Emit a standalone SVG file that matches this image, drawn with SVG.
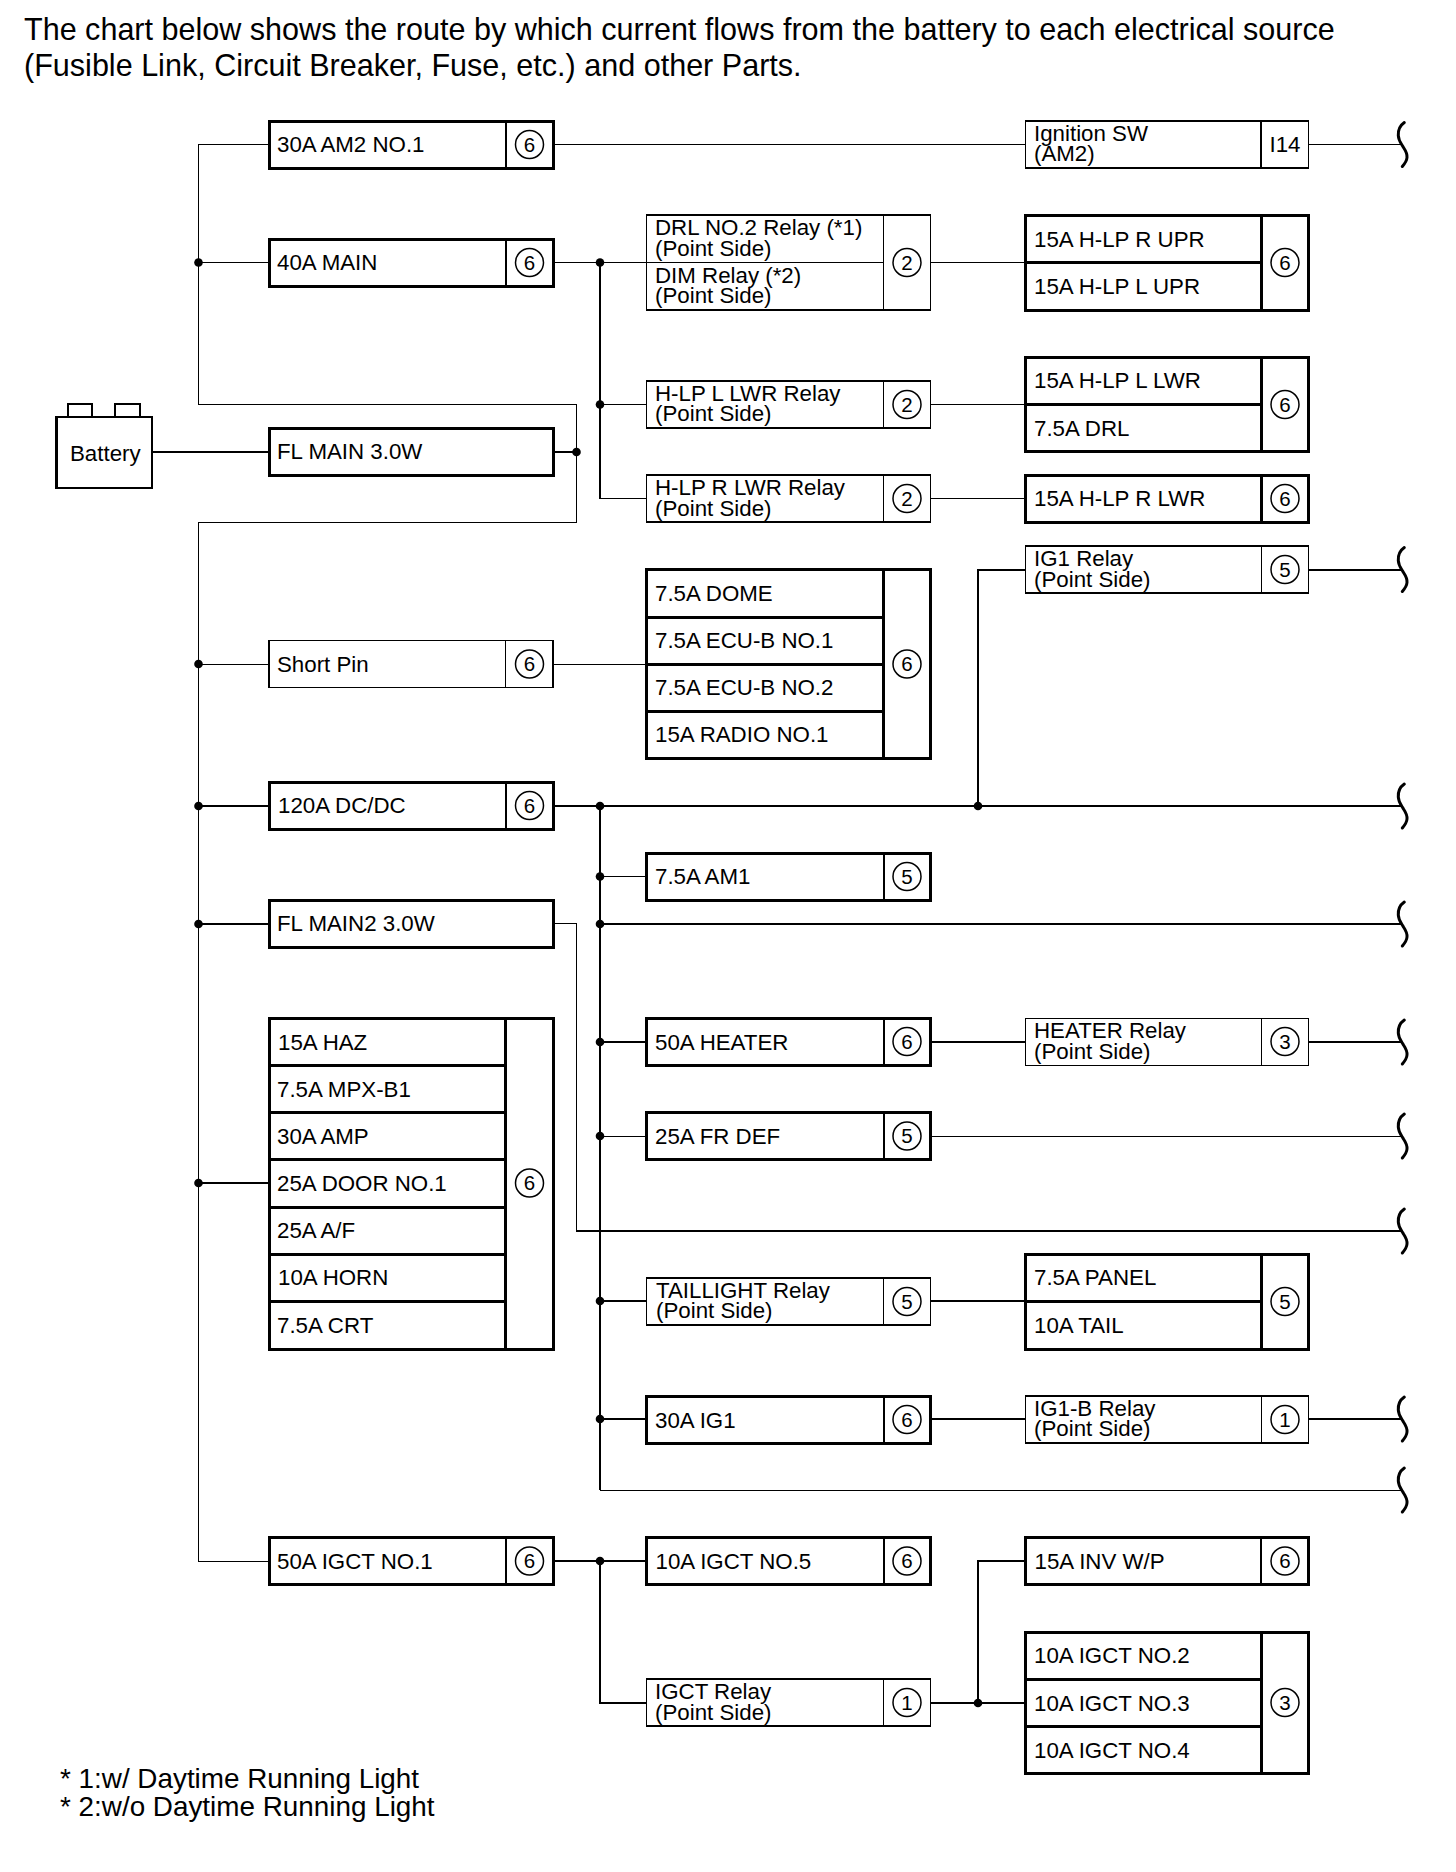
<svg xmlns="http://www.w3.org/2000/svg" width="1456" height="1872" viewBox="0 0 1456 1872">
<style>
text{font-family:"Liberation Sans",Arial,sans-serif;font-size:22.3px;fill:#000}
.h{font-size:30.56px}
.f{font-size:27.85px}
.n{font-size:20.5px;text-anchor:middle}
.m{text-anchor:middle}
.b,.r,.c,.w,.s,.v{fill:none;stroke:#000;shape-rendering:crispEdges}
.b{fill:#fff;stroke-width:3}
.r{fill:#fff;stroke-width:1.6}
.c{fill:#fff;stroke-width:1.5;shape-rendering:auto}
.w{stroke-width:1}
.s{stroke-width:2}
.v{stroke-width:3;stroke-linecap:round;shape-rendering:auto}
.d{fill:#000}
</style>
<defs>
<path id="brace" class="v" d="M1404.300-22C1400-19 1398-14 1398.300-9C1398.600-3 1402 0 1403.500 3C1405.500 6 1407.500 9 1407 13C1406.700 17 1404 20 1402.300 22"/>
</defs>
<text class="h" x="24" y="40">The chart below shows the route by which current flows from the battery to each electrical source</text>
<text class="h" x="24" y="76">(Fusible Link, Circuit Breaker, Fuse, etc.) and other Parts.</text>
<g id="connectors">
<path class="w" d="M269 144.500H198.500V404.500H576.500V522.500H198.500V1561H269"/>
<path class="w" d="M198.500 262.500H269M198.500 664H269"/>
<path class="s" d="M198 806H269M198 924H269M198 1183H269"/>
<path class="s" d="M152 452H269M553 452H577"/>
<path class="w" d="M553 144.500H1025.500M1308.500 144.500H1402"/>
<path class="w" d="M553 262.500H646.500M930.500 262.500H1025.500M600 498.500H646.500M600 404.500H646.500M930.500 404.500H1025.500M930.500 498.500H1025.500"/>
<path class="s" d="M600 262V499"/>
<path class="s" d="M978 806V570H1025M1308 570H1402"/>
<path class="w" d="M553 664H646.500"/>
<path class="s" d="M553 806H1402M600 806V1490"/>
<path class="w" d="M600 876.500H646.500"/>
<path class="s" d="M600 924H1402"/>
<path class="w" d="M553 923.500H576.500V1230.500"/>
<path class="s" d="M576 1231H1402"/>
<path class="s" d="M600 1042H646M930 1042H1025M1308 1042H1402"/>
<path class="w" d="M600 1136.500H646.500M930 1136.500H1402"/>
<path class="s" d="M600 1301H646M930 1301H1025M600 1419H646M930 1419H1025M1308 1419H1402"/>
<path class="w" d="M600 1490.500H1402"/>
<path class="s" d="M553 1561H646M600 1561V1703H646M930 1703H1025M978 1703V1561H1025"/>
<use href="#brace" y="144.500"/>
<use href="#brace" y="569.500"/>
<use href="#brace" y="806"/>
<use href="#brace" y="924"/>
<use href="#brace" y="1042"/>
<use href="#brace" y="1136"/>
<use href="#brace" y="1231"/>
<use href="#brace" y="1419"/>
<use href="#brace" y="1490"/>
<circle class="d" cx="198.500" cy="262.500" r="4.300"/>
<circle class="d" cx="198.500" cy="664" r="4.300"/>
<circle class="d" cx="198.500" cy="806" r="4.300"/>
<circle class="d" cx="198.500" cy="924" r="4.300"/>
<circle class="d" cx="198.500" cy="1183" r="4.300"/>
<circle class="d" cx="576.500" cy="452" r="4.300"/>
<circle class="d" cx="600" cy="262.500" r="4.300"/>
<circle class="d" cx="600" cy="404.500" r="4.300"/>
<circle class="d" cx="600" cy="806" r="4.300"/>
<circle class="d" cx="600" cy="876.500" r="4.300"/>
<circle class="d" cx="600" cy="924" r="4.300"/>
<circle class="d" cx="600" cy="1042" r="4.300"/>
<circle class="d" cx="600" cy="1136" r="4.300"/>
<circle class="d" cx="600" cy="1301" r="4.300"/>
<circle class="d" cx="600" cy="1419" r="4.300"/>
<circle class="d" cx="600" cy="1561" r="4.300"/>
<circle class="d" cx="978" cy="806" r="4.300"/>
<circle class="d" cx="978" cy="1703" r="4.300"/>
</g>
<g id="battery">
<path class="s" style="stroke-width:2.500" d="M68 416V404H92V416M115 416V404H140V416"/>
<rect class="b" style="stroke-width:2.500" x="56.500" y="417" width="95.500" height="71"/>
<text x="70" y="461">Battery</text>
</g>
<g id="am2">
<rect class="b" x="269" y="121" width="284" height="47"/>
<path class="s" d="M505.500 121V168"/>
<text x="277" y="152">30A AM2 NO.1</text>
<circle class="c" cx="529.500" cy="144.500" r="14"/><text class="n" x="529.500" y="151.800">6</text>
</g>
<g id="ignition">
<rect class="r" x="1025.500" y="121" width="283" height="47"/>
<path class="s" d="M1261 121V168"/>
<text x="1034" y="141">Ignition SW</text><text x="1034" y="161">(AM2)</text>
<text class="m" x="1285" y="152">I14</text>
</g>
<g id="main">
<rect class="b" x="269" y="239" width="284" height="47"/>
<path class="s" d="M505.500 239V286"/>
<text x="277" y="270">40A MAIN</text>
<circle class="c" cx="529.500" cy="262.500" r="14"/><text class="n" x="529.500" y="269.800">6</text>
</g>
<g id="drl">
<rect class="r" x="646.500" y="215" width="284" height="95"/>
<path class="w" d="M646.500 262.500H883.500"/>
<path class="w" d="M883.500 215V310"/>
<text x="655" y="235">DRL NO.2 Relay (*1)</text><text x="655" y="255.500">(Point Side)</text>
<text x="655" y="282.500">DIM Relay (*2)</text><text x="655" y="303">(Point Side)</text>
<circle class="c" cx="907" cy="262.500" r="14"/><text class="n" x="907" y="269.800">2</text>
</g>
<g id="hlp-upr">
<rect class="b" x="1025.500" y="215" width="283" height="95"/>
<path class="b" d="M1025.500 262.500H1261M1261 215V310"/>
<text x="1034" y="246.500">15A H-LP R UPR</text><text x="1034" y="294">15A H-LP L UPR</text>
<circle class="c" cx="1285" cy="262.500" r="14"/><text class="n" x="1285" y="269.800">6</text>
</g>
<g id="hlp-l-relay">
<rect class="r" x="646.500" y="381" width="284" height="47"/>
<path class="w" d="M883.500 381V428"/>
<text x="655" y="400.500">H-LP L LWR Relay</text><text x="655" y="421">(Point Side)</text>
<circle class="c" cx="907" cy="404.500" r="14"/><text class="n" x="907" y="411.800">2</text>
</g>
<g id="hlp-lwr">
<rect class="b" x="1025.500" y="357" width="283" height="94.500"/>
<path class="b" d="M1025.500 404.500H1261M1261 357V451.500"/>
<text x="1034" y="388">15A H-LP L LWR</text><text x="1034" y="436">7.5A DRL</text>
<circle class="c" cx="1285" cy="404.500" r="14"/><text class="n" x="1285" y="411.800">6</text>
</g>
<g id="fl-main">
<rect class="b" x="269" y="428" width="284" height="47"/>
<text x="277" y="459">FL MAIN 3.0W</text>
</g>
<g id="hlp-r-relay">
<rect class="r" x="646.500" y="475" width="284" height="47"/>
<path class="w" d="M883.500 475V522"/>
<text x="655" y="495">H-LP R LWR Relay</text><text x="655" y="515.500">(Point Side)</text>
<circle class="c" cx="907" cy="498.500" r="14"/><text class="n" x="907" y="505.800">2</text>
</g>
<g id="hlp-r">
<rect class="b" x="1025.500" y="475" width="283" height="47"/>
<path class="b" d="M1261 475V522"/>
<text x="1034" y="506">15A H-LP R LWR</text>
<circle class="c" cx="1285" cy="498.500" r="14"/><text class="n" x="1285" y="505.800">6</text>
</g>
<g id="ig1-relay">
<rect class="r" x="1025.500" y="546" width="283" height="47"/>
<path class="w" d="M1261 546V593"/>
<text x="1034" y="566">IG1 Relay</text><text x="1034" y="586.500">(Point Side)</text>
<circle class="c" cx="1285" cy="569.500" r="14"/><text class="n" x="1285" y="576.800">5</text>
</g>
<g id="short-pin">
<rect class="r" x="269" y="640.500" width="284" height="47"/>
<path class="w" d="M505.500 640.500V687.500"/>
<text x="277" y="671.500">Short Pin</text>
<circle class="c" cx="529.500" cy="664" r="14"/><text class="n" x="529.500" y="671.300">6</text>
</g>
<g id="dome">
<rect class="b" x="646.500" y="569.500" width="284" height="189"/>
<path class="b" d="M646.500 617H883.500M646.500 664H883.500M646.500 711H883.500M883.500 569.500V758.500"/>
<text x="655" y="601">7.5A DOME</text><text x="655" y="648">7.5A ECU-B NO.1</text><text x="655" y="695">7.5A ECU-B NO.2</text><text x="655" y="742">15A RADIO NO.1</text>
<circle class="c" cx="907" cy="664" r="14"/><text class="n" x="907" y="671.300">6</text>
</g>
<g id="dcdc">
<rect class="b" x="269" y="782" width="284" height="47"/>
<path class="s" d="M505.500 782V829"/>
<text x="278" y="813">120A DC/DC</text>
<circle class="c" cx="529.500" cy="805.500" r="14"/><text class="n" x="529.500" y="812.800">6</text>
</g>
<g id="am1">
<rect class="b" x="646.500" y="853" width="284" height="47"/>
<path class="s" d="M883.500 853V900"/>
<text x="655" y="884">7.5A AM1</text>
<circle class="c" cx="907" cy="876.500" r="14"/><text class="n" x="907" y="883.800">5</text>
</g>
<g id="fl-main2">
<rect class="b" x="269" y="900" width="284" height="47"/>
<text x="277" y="931">FL MAIN2 3.0W</text>
</g>
<g id="fuses-left">
<rect class="b" x="269" y="1018" width="284" height="331"/>
<path class="b" d="M269 1065.500H505.500M269 1112.500H505.500M269 1159.500H505.500M269 1207H505.500M269 1254H505.500M269 1301.500H505.500M505.500 1018V1349"/>
<text x="278" y="1049.500">15A HAZ</text><text x="277" y="1096.500">7.5A MPX-B1</text><text x="277" y="1144">30A AMP</text><text x="277" y="1191">25A DOOR NO.1</text><text x="277" y="1238">25A A/F</text><text x="278" y="1285">10A HORN</text><text x="277" y="1333">7.5A CRT</text>
<circle class="c" cx="529.500" cy="1183" r="14"/><text class="n" x="529.500" y="1190.300">6</text>
</g>
<g id="heater">
<rect class="b" x="646.500" y="1018.500" width="284" height="47"/>
<path class="s" d="M883.500 1018.500V1065.500"/>
<text x="655" y="1049.500">50A HEATER</text>
<circle class="c" cx="907" cy="1041.500" r="14"/><text class="n" x="907" y="1048.800">6</text>
</g>
<g id="heater-relay">
<rect class="r" x="1025.500" y="1018.500" width="283" height="47"/>
<path class="w" d="M1261 1018.500V1065.500"/>
<text x="1034" y="1038">HEATER Relay</text><text x="1034" y="1058.500">(Point Side)</text>
<circle class="c" cx="1285" cy="1041.500" r="14"/><text class="n" x="1285" y="1048.800">3</text>
</g>
<g id="fr-def">
<rect class="b" x="646.500" y="1112.500" width="284" height="47"/>
<path class="s" d="M883.500 1112.500V1159.500"/>
<text x="655" y="1144">25A FR DEF</text>
<circle class="c" cx="907" cy="1136" r="14"/><text class="n" x="907" y="1143.300">5</text>
</g>
<g id="taillight-relay">
<rect class="r" x="646.500" y="1278" width="284" height="47"/>
<path class="w" d="M883.500 1278V1325"/>
<text x="656" y="1297.500">TAILLIGHT Relay</text><text x="656" y="1318">(Point Side)</text>
<circle class="c" cx="907" cy="1301.500" r="14"/><text class="n" x="907" y="1308.800">5</text>
</g>
<g id="panel-tail">
<rect class="b" x="1025.500" y="1254" width="283" height="95"/>
<path class="b" d="M1025.500 1301.500H1261M1261 1254V1349"/>
<text x="1034" y="1285">7.5A PANEL</text><text x="1034" y="1333">10A TAIL</text>
<circle class="c" cx="1285" cy="1301.500" r="14"/><text class="n" x="1285" y="1308.800">5</text>
</g>
<g id="ig1">
<rect class="b" x="646.500" y="1396" width="284" height="47"/>
<path class="s" d="M883.500 1396V1443"/>
<text x="655" y="1427.500">30A IG1</text>
<circle class="c" cx="907" cy="1419.500" r="14"/><text class="n" x="907" y="1426.800">6</text>
</g>
<g id="ig1b-relay">
<rect class="r" x="1025.500" y="1396" width="283" height="47"/>
<path class="w" d="M1261 1396V1443"/>
<text x="1034" y="1415.500">IG1-B Relay</text><text x="1034" y="1436">(Point Side)</text>
<circle class="c" cx="1285" cy="1419.500" r="14"/><text class="n" x="1285" y="1426.800">1</text>
</g>
<g id="igct1">
<rect class="b" x="269" y="1537.500" width="284" height="47"/>
<path class="s" d="M505.500 1537.500V1584.500"/>
<text x="277" y="1568.500">50A IGCT NO.1</text>
<circle class="c" cx="529.500" cy="1561" r="14"/><text class="n" x="529.500" y="1568.300">6</text>
</g>
<g id="igct5">
<rect class="b" x="646.500" y="1537.500" width="284" height="47"/>
<path class="s" d="M883.500 1537.500V1584.500"/>
<text x="655.500" y="1568.500">10A IGCT NO.5</text>
<circle class="c" cx="907" cy="1561" r="14"/><text class="n" x="907" y="1568.300">6</text>
</g>
<g id="inv-wp">
<rect class="b" x="1025.500" y="1537.500" width="283" height="47"/>
<path class="s" d="M1261 1537.500V1584.500"/>
<text x="1034.500" y="1568.500">15A INV W/P</text>
<circle class="c" cx="1285" cy="1561" r="14"/><text class="n" x="1285" y="1568.300">6</text>
</g>
<g id="igct-relay">
<rect class="r" x="646.500" y="1679" width="284" height="47"/>
<path class="w" d="M883.500 1679V1726"/>
<text x="655" y="1699">IGCT Relay</text><text x="655" y="1719.500">(Point Side)</text>
<circle class="c" cx="907" cy="1702.500" r="14"/><text class="n" x="907" y="1709.800">1</text>
</g>
<g id="igct-234">
<rect class="b" x="1025.500" y="1632" width="283" height="141.500"/>
<path class="b" d="M1025.500 1679H1261M1025.500 1726.500H1261M1261 1632V1773.500"/>
<text x="1034" y="1663">10A IGCT NO.2</text><text x="1034" y="1710.500">10A IGCT NO.3</text><text x="1034" y="1758">10A IGCT NO.4</text>
<circle class="c" cx="1285" cy="1702.500" r="14"/><text class="n" x="1285" y="1709.800">3</text>
</g>
<text class="f" x="60" y="1787.500">* 1:w/ Daytime Running Light</text>
<text class="f" x="60" y="1816">* 2:w/o Daytime Running Light</text>
</svg>
